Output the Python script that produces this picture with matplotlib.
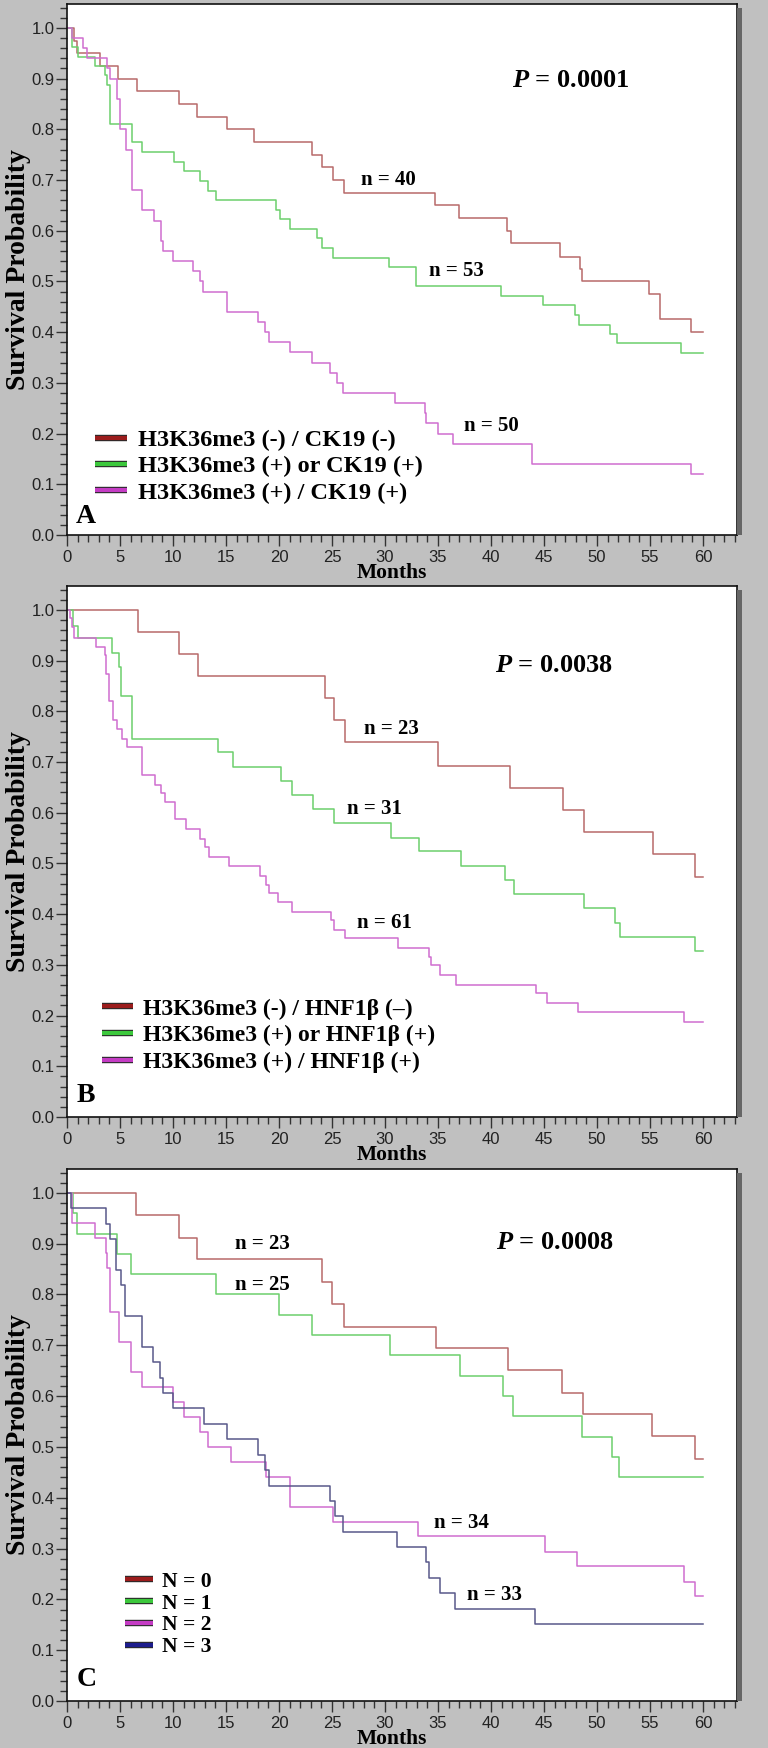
import matplotlib
matplotlib.use("Agg")
import matplotlib.pyplot as plt
import matplotlib.patheffects as pe
from matplotlib.lines import Line2D
from matplotlib.patches import Rectangle

plt.rcParams["mathtext.fontset"] = "custom"
plt.rcParams["mathtext.it"] = "Liberation Serif:italic:bold"
plt.rcParams["mathtext.rm"] = "Liberation Serif:bold"

# ---- panel A : H3K36me3 / CK19 ----
a_names = ["H3K36me3 (-) / CK19 (-)", "H3K36me3 (+) or CK19 (+)", "H3K36me3 (+) / CK19 (+)"]
a_counts = ["n = 40", "n = 53", "n = 50"]
a_pvalue = "0.0001"
a_red_t = [0, 0.66, 0.97, 3.1, 4.8, 6.6, 10.6, 12.3, 15.1, 17.6, 23.1, 24.1, 25.1, 26.1, 34.7, 37.0,
           41.5, 41.9, 46.5, 48.4, 48.6, 54.9, 55.9, 58.9, 60]
a_red_s = [1.0, 0.975, 0.95, 0.925, 0.9, 0.875, 0.85, 0.825, 0.8, 0.775, 0.75, 0.725, 0.7, 0.675, 0.65, 0.625,
           0.6, 0.575, 0.549, 0.525, 0.5, 0.475, 0.425, 0.4, 0.4]
a_green_t = [0, 0.5, 1.0, 2.6, 3.6, 3.8, 4.05, 6.1, 7.1, 10.1, 11.0, 12.5, 13.3, 14.1, 19.7, 20.1, 21.0,
             23.6, 24.1, 25.1, 30.4, 32.9, 40.9, 44.9, 47.9, 48.3, 51.2, 51.9, 57.9, 60]
a_green_s = [1.0, 0.962, 0.943, 0.925, 0.906, 0.887, 0.811, 0.774, 0.755, 0.736, 0.717, 0.698, 0.679, 0.66,
             0.641, 0.623, 0.604, 0.585, 0.566, 0.547, 0.528, 0.49, 0.472, 0.453, 0.434, 0.415, 0.397,
             0.378, 0.359, 0.359]
a_purple_t = [0, 0.5, 1.5, 1.9, 3.75, 4.1, 4.7, 5.0, 5.6, 6.1, 7.1, 8.2, 8.9, 9.1, 10.0, 11.9, 12.5, 12.8,
              15.1, 18.05, 18.7, 19.05, 21.0, 23.1, 24.8, 25.5, 26.0, 30.9, 33.8, 33.9, 35.0, 36.4, 43.9,
              58.9, 60]
a_purple_s = [1.0, 0.98, 0.96, 0.94, 0.92, 0.9, 0.86, 0.8, 0.76, 0.68, 0.64, 0.62, 0.58, 0.56, 0.54, 0.52,
              0.5, 0.48, 0.44, 0.42, 0.4, 0.38, 0.36, 0.34, 0.32, 0.3, 0.28, 0.26, 0.24, 0.22, 0.2, 0.18,
              0.14, 0.12, 0.12]

# ---- panel B : H3K36me3 / HNF1b ----
b_names = ["H3K36me3 (-) / HNF1β (–)", "H3K36me3 (+) or HNF1β (+)", "H3K36me3 (+) / HNF1β (+)"]
b_counts = ["n = 23", "n = 31", "n = 61"]
b_pvalue = "0.0038"
b_red_t = [0, 6.7, 10.6, 12.4, 24.3, 25.2, 26.2, 35.0, 41.8, 46.8, 48.8, 55.3, 59.2, 60]
b_red_s = [1.0, 0.957, 0.913, 0.87, 0.826, 0.783, 0.739, 0.692, 0.648, 0.605, 0.561, 0.518, 0.474, 0.474]
b_green_t = [0, 0.6, 1.07, 4.2, 4.9, 5.1, 6.1, 14.2, 15.7, 20.2, 21.2, 23.2, 25.2, 30.6, 33.2, 37.2, 41.3,
             42.2, 48.8, 51.7, 52.2, 59.2, 60]
b_green_s = [1.0, 0.968, 0.944, 0.915, 0.887, 0.83, 0.746, 0.719, 0.691, 0.663, 0.635, 0.607, 0.58, 0.551,
             0.525, 0.494, 0.468, 0.439, 0.412, 0.383, 0.355, 0.327, 0.327]
b_purple_t = [0, 0.3, 0.5, 0.7, 2.7, 3.55, 3.7, 4.0, 4.3, 4.7, 5.2, 5.7, 7.1, 8.3, 8.9, 9.2, 10.2, 11.2,
              12.5, 13.0, 13.4, 15.3, 18.2, 18.8, 19.1, 19.9, 21.2, 24.9, 25.2, 26.2, 31.2, 34.1, 34.3,
              35.2, 36.7, 44.2, 45.3, 48.2, 58.2, 60]
b_purple_s = [1.0, 0.984, 0.967, 0.944, 0.927, 0.91, 0.874, 0.82, 0.782, 0.765, 0.746, 0.729, 0.674, 0.655,
              0.638, 0.621, 0.587, 0.568, 0.549, 0.532, 0.513, 0.494, 0.476, 0.458, 0.441, 0.424, 0.405,
              0.388, 0.369, 0.352, 0.333, 0.316, 0.299, 0.28, 0.261, 0.244, 0.225, 0.207, 0.188, 0.188]

# ---- panel C : number of positive markers ----
c_names = ["N = 0", "N = 1", "N = 2", "N = 3"]
c_counts = ["n = 23", "n = 25", "n = 34", "n = 33"]
c_pvalue = "0.0008"
c_red_t = [0, 6.5, 10.6, 12.3, 24.1, 25.0, 26.1, 34.8, 41.6, 46.7, 48.7, 55.2, 59.2, 60]
c_red_s = [1.0, 0.956, 0.912, 0.869, 0.825, 0.781, 0.737, 0.694, 0.651, 0.607, 0.564, 0.521, 0.477, 0.477]
c_green_t = [0, 0.6, 0.92, 4.7, 6.0, 14.1, 20.0, 23.1, 30.5, 37.1, 41.1, 42.1, 48.6, 51.4, 52.1, 60]
c_green_s = [1.0, 0.96, 0.92, 0.88, 0.84, 0.8, 0.76, 0.72, 0.68, 0.64, 0.6, 0.56, 0.52, 0.48, 0.44, 0.44]
c_purple_t = [0, 0.5, 2.64, 3.68, 3.8, 4.06, 4.93, 6.0, 7.05, 10.0, 11.0, 12.5, 13.3, 15.5, 18.8, 21.0,
              25.1, 33.1, 45.1, 48.1, 58.2, 59.2, 60]
c_purple_s = [1.0, 0.941, 0.912, 0.882, 0.853, 0.765, 0.706, 0.647, 0.618, 0.588, 0.559, 0.529, 0.5,
              0.471, 0.441, 0.382, 0.353, 0.324, 0.294, 0.265, 0.235, 0.206, 0.206]
c_blue_t = [0, 0.35, 3.7, 4.06, 4.6, 5.07, 5.47, 7.05, 8.1, 8.8, 9.1, 10.0, 12.9, 15.1, 18.05, 18.7, 19.1,
            24.8, 25.3, 26.0, 31.1, 33.9, 34.15, 35.2, 36.6, 44.1, 60]
c_blue_s = [1.0, 0.97, 0.939, 0.909, 0.848, 0.818, 0.758, 0.697, 0.667, 0.636, 0.606, 0.576, 0.545, 0.515,
            0.485, 0.455, 0.424, 0.394, 0.364, 0.333, 0.303, 0.273, 0.242, 0.212, 0.182, 0.152, 0.152]

curve_colors = ["#b86a6a", "#6ccf6c", "#d06ed0", "#58588a"]
legend_colors = ["#9b1c1c", "#3cc83c", "#c43cc4", "#1c1c8c"]

serif = "Liberation Serif"
sans = "Liberation Sans"

panels = [
    dict(letter="A", names=a_names, counts=a_counts, pvalue=a_pvalue,
         curves=[(a_red_t, a_red_s), (a_green_t, a_green_s), (a_purple_t, a_purple_s)],
         rect=[0.08724, 0.69394, 0.8724, 0.30378],
         count_xy=[(30.3, 0.70), (36.7, 0.521), (40.0, 0.214)], p_xy=(47.5, 0.897),
         leg_anchor=(0.042, 0.199), leg_size=17.5, leg_space=0.17, letter_xy=(1.75, 0.036)),
    dict(letter="B", names=b_names, counts=b_counts, pvalue=b_pvalue,
         curves=[(b_red_t, b_red_s), (b_green_t, b_green_s), (b_purple_t, b_purple_s)],
         rect=[0.08724, 0.36098, 0.8724, 0.30378],
         count_xy=[(30.6, 0.765), (29.0, 0.607), (29.9, 0.383)], p_xy=(45.9, 0.891),
         leg_anchor=(0.052, 0.224), leg_size=17, leg_space=0.22, letter_xy=(1.8, 0.042)),
    dict(letter="C", names=c_names, counts=c_counts, pvalue=c_pvalue,
         curves=[(c_red_t, c_red_s), (c_green_t, c_green_s), (c_purple_t, c_purple_s), (c_blue_t, c_blue_s)],
         rect=[0.08724, 0.02689, 0.8724, 0.30435],
         count_xy=[(18.4, 0.899), (18.4, 0.819), (37.2, 0.35), (40.3, 0.209)], p_xy=(46.0, 0.903),
         leg_anchor=(0.086, 0.243), leg_size=15.5, leg_space=0.08, letter_xy=(1.9, 0.043)),
]

fig = plt.figure(figsize=(7.68, 17.48), dpi=100, facecolor="#c0c0c0")

for p in panels:
    ax = fig.add_axes(p["rect"])
    ax.set_facecolor("white")

    for (t, s), c in zip(p["curves"], curve_colors):
        ax.step(t, s, where="post", color=c, lw=1.1)

    ax.set_xlim(0, 63.2)
    ax.set_ylim(0, 1.047)
    ax.set_xticks(range(0, 61, 5))
    ax.set_xticks(range(0, 64), minor=True)
    ax.set_yticks([i / 10 for i in range(11)])
    ax.set_yticks([i / 50 for i in range(53)], minor=True)
    ax.set_yticklabels([f"{i / 10:.1f}" for i in range(11)])
    ax.tick_params(which="major", length=8, width=1, color="#333333", labelsize=12,
                   labelcolor="#222222")
    ax.tick_params(axis="y", which="major", pad=1)
    ax.tick_params(axis="x", which="major", pad=3)
    ax.tick_params(which="minor", length=5, width=1, color="#333333")
    for lab in ax.get_xticklabels() + ax.get_yticklabels():
        lab.set_fontfamily(sans)
    for sp in ax.spines.values():
        sp.set_linewidth(1.2)
        sp.set_color("#111111")

    ax.set_ylabel("Survival Probability", fontfamily=serif, fontweight="bold", fontsize=20, va="center")
    ax.yaxis.set_label_coords(-0.072, 0.5)
    ax.set_xlabel("Months", fontfamily=serif, fontweight="bold", fontsize=15.5, va="center")
    ax.xaxis.set_label_coords(0.485, -0.072)

    for txt, xy in zip(p["counts"], p["count_xy"]):
        ax.text(xy[0], xy[1], txt, fontfamily=serif, fontweight="bold", fontsize=15,
                ha="center", va="center")
    ax.text(p["p_xy"][0], p["p_xy"][1], r"$\it{P}$ = " + p["pvalue"], fontfamily=serif,
            fontweight="bold", fontsize=19, ha="center", va="center")
    ax.text(p["letter_xy"][0], p["letter_xy"][1], p["letter"], fontfamily=serif, fontweight="bold",
            fontsize=20, ha="center", va="center")

    handles = []
    for c in legend_colors[:len(p["names"])]:
        handles.append(Line2D([], [], color=c, lw=3, solid_capstyle="butt",
                              path_effects=[pe.Stroke(linewidth=4.6, foreground="#2a2a2a"), pe.Normal()]))
    ax.legend(handles, p["names"], loc="upper left", bbox_to_anchor=p["leg_anchor"], frameon=False,
              prop=dict(family=serif, weight="bold", size=p["leg_size"]), handlelength=1.3,
              handletextpad=0.45, labelspacing=p["leg_space"], borderpad=0, borderaxespad=0)

    # dark shadow along the right edge of each plot box
    x0, y0, w, h = p["rect"]
    fig.add_artist(Rectangle((x0 + w, y0), 5 / 768, h - 4 / 1748, transform=fig.transFigure,
                             facecolor="#666666", edgecolor="none"))

fig.savefig("out.png", dpi=100, facecolor=fig.get_facecolor())
